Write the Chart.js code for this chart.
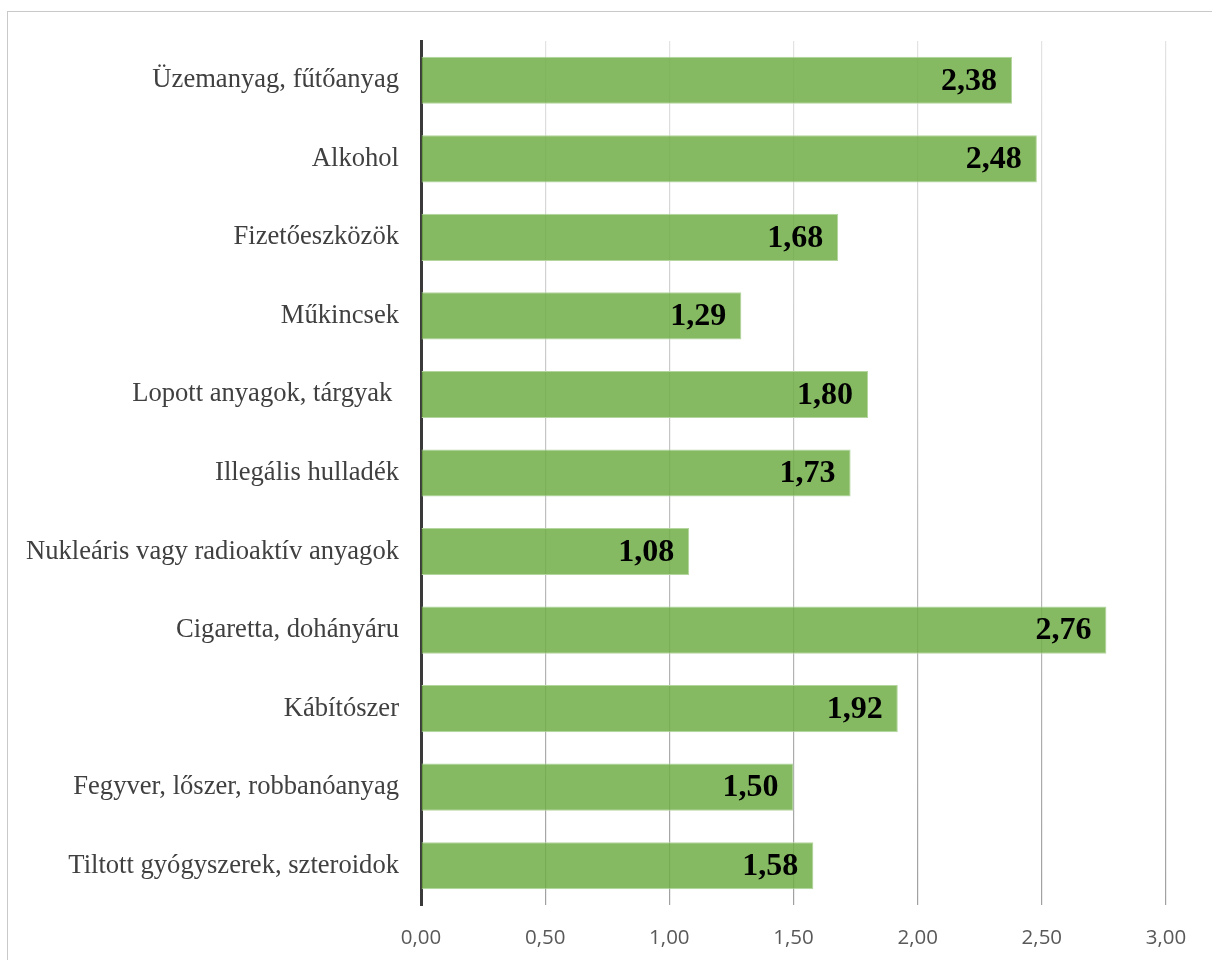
<!DOCTYPE html>
<html lang="hu">
<head>
<meta charset="utf-8">
<title>Csempészett termékek</title>
<script src="https://cdn.jsdelivr.net/npm/chart.js@4/dist/chart.umd.min.js"></script>
<style>
  html, body { margin: 0; padding: 0; background: #ffffff; overflow: hidden; }
  #wrap { position: relative; width: 1212px; height: 960px; }
  #frame {
    position: absolute; left: 7px; top: 11px; width: 1300px; height: 1100px;
    border: 1.5px solid #c9c9c9; box-sizing: border-box; pointer-events: none;
  }
  canvas { position: absolute; left: 0; top: 0; }
</style>
</head>
<body>
<div id="wrap">
  <div id="frame"></div>
  <canvas id="chart" width="1212" height="960"></canvas>
</div>
<script>
// Categories, top to bottom
const categories = [
  'Üzemanyag, fűtőanyag',
  'Alkohol',
  'Fizetőeszközök',
  'Műkincsek',
  'Lopott anyagok, tárgyak ',
  'Illegális hulladék',
  'Nukleáris vagy radioaktív anyagok',
  'Cigaretta, dohányáru',
  'Kábítószer',
  'Fegyver, lőszer, robbanóanyag',
  'Tiltott gyógyszerek, szteroidok'
];

// Average score per category
const values = [2.38, 2.48, 1.68, 1.29, 1.80, 1.73, 1.08, 2.76, 1.92, 1.50, 1.58];

// Value-axis range and tick step
const axisMin = 0;
const axisMax = 3;
const axisStep = 0.5;

const fmt = v => Number(v).toFixed(2).replace('.', ',');

// Draws each bar's value inside the end of the bar
const valueLabels = {
  id: 'valueLabels',
  afterDatasetsDraw(chart) {
    const ctx = chart.ctx;
    const meta = chart.getDatasetMeta(0);
    ctx.save();
    ctx.font = 'bold 32px "Liberation Serif", "Times New Roman", serif';
    ctx.fillStyle = '#000000';
    ctx.textAlign = 'right';
    ctx.textBaseline = 'middle';
    meta.data.forEach((bar, i) => {
      ctx.fillText(fmt(chart.data.datasets[0].data[i]), bar.x - 15, bar.y + 1);
    });
    ctx.restore();
  }
};

new Chart(document.getElementById('chart'), {
  type: 'bar',
  data: {
    labels: categories,
    datasets: [{
      data: values,
      backgroundColor: 'rgba(112, 173, 71, 0.85)',
      borderColor: '#b4d69e',
      borderWidth: 1,
      borderSkipped: 'left',
      categoryPercentage: 1,
      barPercentage: 0.6
    }]
  },
  options: {
    indexAxis: 'y',
    responsive: false,
    animation: false,
    devicePixelRatio: 1,
    layout: { padding: { top: 41, right: 46, left: 0, bottom: 0 } },
    plugins: {
      legend: { display: false },
      tooltip: { enabled: false }
    },
    scales: {
      x: {
        type: 'linear',
        min: axisMin,
        max: axisMax,
        ticks: {
          stepSize: axisStep,
          padding: 21,
          color: '#595959',
          font: { family: '"Open Sans", "Liberation Sans", sans-serif', size: 20.5 },
          callback: v => fmt(v)
        },
        grid: {
          drawTicks: false,
          lineWidth: 1.2,
          color: (c) => {
            const ch = c.chart;
            const a = ch.chartArea;
            if (!a) return '#c0c0c0';
            const g = ch.ctx.createLinearGradient(0, a.top, 0, a.bottom);
            g.addColorStop(0, '#e3e3e3');
            g.addColorStop(1, '#a0a0a0');
            return g;
          }
        },
        border: { display: false },
        afterFit: (s) => { s.height = 55; }
      },
      y: {
        ticks: {
          padding: 22,
          color: '#404040',
          font: { family: '"Liberation Serif", "Times New Roman", serif', size: 26.6 }
        },
        grid: { display: false, drawTicks: false },
        border: { display: true, color: '#3a3a3a', width: 3 },
        afterFit: (s) => { s.width = 421; }
      }
    }
  },
  plugins: [valueLabels]
});
</script>
</body>
</html>
